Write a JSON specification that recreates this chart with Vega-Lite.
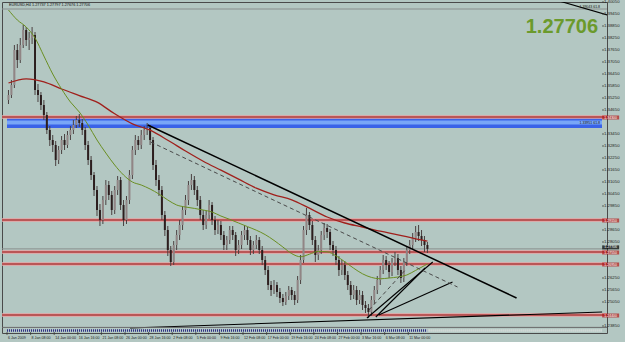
{
"$schema":"https://vega.github.io/schema/vega-lite/v6.json",
"width":605,"height":331,
"autosize":{"type":"none"},
"padding":{"left":2,"top":2,"right":18,"bottom":9},
"background":"#B3C7C2",
"config":{"view":{"stroke":"#4A4A4A","strokeWidth":1,"fill":"#B3C7C2"},"font":"Liberation Sans"},
"datasets":{
"bars":[
{"i":0,"o":1.3515,"h":1.3565,"l":1.3495,"c":1.3540},
{"i":1,"o":1.3540,"h":1.3615,"l":1.3525,"c":1.3590},
{"i":2,"o":1.3590,"h":1.3790,"l":1.3575,"c":1.3765},
{"i":3,"o":1.3765,"h":1.3795,"l":1.3675,"c":1.3715},
{"i":4,"o":1.3715,"h":1.3825,"l":1.3700,"c":1.3790},
{"i":5,"o":1.3790,"h":1.3890,"l":1.3775,"c":1.3865},
{"i":6,"o":1.3865,"h":1.3880,"l":1.3785,"c":1.3815},
{"i":7,"o":1.3815,"h":1.3855,"l":1.3765,"c":1.3825},
{"i":8,"o":1.3825,"h":1.3880,"l":1.3795,"c":1.3840},
{"i":9,"o":1.3840,"h":1.3855,"l":1.3540,"c":1.3565},
{"i":10,"o":1.3565,"h":1.3595,"l":1.3505,"c":1.3540},
{"i":11,"o":1.3540,"h":1.3555,"l":1.3465,"c":1.3490},
{"i":12,"o":1.3490,"h":1.3515,"l":1.3415,"c":1.3440},
{"i":13,"o":1.3440,"h":1.3455,"l":1.3345,"c":1.3365},
{"i":14,"o":1.3365,"h":1.3385,"l":1.3285,"c":1.3315},
{"i":15,"o":1.3315,"h":1.3340,"l":1.3255,"c":1.3290},
{"i":16,"o":1.3290,"h":1.3310,"l":1.3185,"c":1.3215},
{"i":17,"o":1.3215,"h":1.3285,"l":1.3195,"c":1.3265},
{"i":18,"o":1.3265,"h":1.3335,"l":1.3245,"c":1.3315},
{"i":19,"o":1.3315,"h":1.3345,"l":1.3265,"c":1.3290},
{"i":20,"o":1.3290,"h":1.3360,"l":1.3275,"c":1.3340},
{"i":21,"o":1.3340,"h":1.3385,"l":1.3315,"c":1.3365},
{"i":22,"o":1.3365,"h":1.3415,"l":1.3345,"c":1.3390},
{"i":23,"o":1.3390,"h":1.3435,"l":1.3375,"c":1.3415},
{"i":24,"o":1.3415,"h":1.3445,"l":1.3380,"c":1.3400},
{"i":25,"o":1.3400,"h":1.3420,"l":1.3340,"c":1.3365},
{"i":26,"o":1.3365,"h":1.3380,"l":1.3265,"c":1.3290},
{"i":27,"o":1.3290,"h":1.3310,"l":1.3190,"c":1.3215},
{"i":28,"o":1.3215,"h":1.3235,"l":1.3115,"c":1.3140},
{"i":29,"o":1.3140,"h":1.3155,"l":1.3035,"c":1.3065},
{"i":30,"o":1.3065,"h":1.3085,"l":1.2935,"c":1.2965},
{"i":31,"o":1.2965,"h":1.2995,"l":1.2885,"c":1.2915},
{"i":32,"o":1.2915,"h":1.3035,"l":1.2895,"c":1.3015},
{"i":33,"o":1.3015,"h":1.3115,"l":1.2990,"c":1.3090},
{"i":34,"o":1.3090,"h":1.3110,"l":1.3015,"c":1.3040},
{"i":35,"o":1.3040,"h":1.3060,"l":1.2940,"c":1.2965},
{"i":36,"o":1.2965,"h":1.3085,"l":1.2945,"c":1.3065},
{"i":37,"o":1.3065,"h":1.3135,"l":1.3040,"c":1.3115},
{"i":38,"o":1.3115,"h":1.3130,"l":1.2965,"c":1.2990},
{"i":39,"o":1.2990,"h":1.3015,"l":1.2885,"c":1.2915},
{"i":40,"o":1.2915,"h":1.3035,"l":1.2895,"c":1.3015},
{"i":41,"o":1.3015,"h":1.3165,"l":1.2995,"c":1.3140},
{"i":42,"o":1.3140,"h":1.3285,"l":1.3120,"c":1.3265},
{"i":43,"o":1.3265,"h":1.3340,"l":1.3240,"c":1.3315},
{"i":44,"o":1.3315,"h":1.3335,"l":1.3265,"c":1.3290},
{"i":45,"o":1.3290,"h":1.3365,"l":1.3270,"c":1.3340},
{"i":46,"o":1.3340,"h":1.3385,"l":1.3315,"c":1.3365},
{"i":47,"o":1.3365,"h":1.3400,"l":1.3340,"c":1.3375},
{"i":48,"o":1.3375,"h":1.3390,"l":1.3290,"c":1.3315},
{"i":49,"o":1.3315,"h":1.3330,"l":1.3165,"c":1.3190},
{"i":50,"o":1.3190,"h":1.3215,"l":1.3085,"c":1.3115},
{"i":51,"o":1.3115,"h":1.3140,"l":1.3035,"c":1.3065},
{"i":52,"o":1.3065,"h":1.3085,"l":1.2915,"c":1.2940},
{"i":53,"o":1.2940,"h":1.2960,"l":1.2835,"c":1.2865},
{"i":54,"o":1.2865,"h":1.2885,"l":1.2735,"c":1.2765},
{"i":55,"o":1.2765,"h":1.2785,"l":1.2685,"c":1.2705},
{"i":56,"o":1.2705,"h":1.2810,"l":1.2690,"c":1.2790},
{"i":57,"o":1.2790,"h":1.2865,"l":1.2765,"c":1.2840},
{"i":58,"o":1.2840,"h":1.2915,"l":1.2815,"c":1.2890},
{"i":59,"o":1.2890,"h":1.2985,"l":1.2865,"c":1.2965},
{"i":60,"o":1.2965,"h":1.3040,"l":1.2940,"c":1.3015},
{"i":61,"o":1.3015,"h":1.3110,"l":1.2990,"c":1.3090},
{"i":62,"o":1.3090,"h":1.3145,"l":1.3065,"c":1.3115},
{"i":63,"o":1.3115,"h":1.3135,"l":1.3040,"c":1.3065},
{"i":64,"o":1.3065,"h":1.3085,"l":1.2985,"c":1.3015},
{"i":65,"o":1.3015,"h":1.3035,"l":1.2915,"c":1.2940},
{"i":66,"o":1.2940,"h":1.2965,"l":1.2865,"c":1.2890},
{"i":67,"o":1.2890,"h":1.2960,"l":1.2870,"c":1.2940},
{"i":68,"o":1.2940,"h":1.3015,"l":1.2920,"c":1.2990},
{"i":69,"o":1.2990,"h":1.3005,"l":1.2890,"c":1.2915},
{"i":70,"o":1.2915,"h":1.2935,"l":1.2840,"c":1.2865},
{"i":71,"o":1.2865,"h":1.2915,"l":1.2845,"c":1.2890},
{"i":72,"o":1.2890,"h":1.2910,"l":1.2815,"c":1.2840},
{"i":73,"o":1.2840,"h":1.2860,"l":1.2765,"c":1.2790},
{"i":74,"o":1.2790,"h":1.2835,"l":1.2765,"c":1.2815},
{"i":75,"o":1.2815,"h":1.2885,"l":1.2795,"c":1.2865},
{"i":76,"o":1.2865,"h":1.2885,"l":1.2815,"c":1.2840},
{"i":77,"o":1.2840,"h":1.2855,"l":1.2735,"c":1.2765},
{"i":78,"o":1.2765,"h":1.2815,"l":1.2745,"c":1.2790},
{"i":79,"o":1.2790,"h":1.2860,"l":1.2770,"c":1.2840},
{"i":80,"o":1.2840,"h":1.2890,"l":1.2815,"c":1.2865},
{"i":81,"o":1.2865,"h":1.2880,"l":1.2790,"c":1.2815},
{"i":82,"o":1.2815,"h":1.2835,"l":1.2740,"c":1.2765},
{"i":83,"o":1.2765,"h":1.2810,"l":1.2745,"c":1.2790},
{"i":84,"o":1.2790,"h":1.2840,"l":1.2770,"c":1.2815},
{"i":85,"o":1.2815,"h":1.2830,"l":1.2745,"c":1.2765},
{"i":86,"o":1.2765,"h":1.2785,"l":1.2690,"c":1.2715},
{"i":87,"o":1.2715,"h":1.2735,"l":1.2640,"c":1.2665},
{"i":88,"o":1.2665,"h":1.2685,"l":1.2565,"c":1.2590},
{"i":89,"o":1.2590,"h":1.2610,"l":1.2535,"c":1.2565},
{"i":90,"o":1.2565,"h":1.2615,"l":1.2545,"c":1.2590},
{"i":91,"o":1.2590,"h":1.2605,"l":1.2530,"c":1.2555},
{"i":92,"o":1.2555,"h":1.2575,"l":1.2500,"c":1.2525},
{"i":93,"o":1.2525,"h":1.2545,"l":1.2485,"c":1.2505},
{"i":94,"o":1.2505,"h":1.2555,"l":1.2490,"c":1.2535},
{"i":95,"o":1.2535,"h":1.2585,"l":1.2515,"c":1.2565},
{"i":96,"o":1.2565,"h":1.2580,"l":1.2515,"c":1.2540},
{"i":97,"o":1.2540,"h":1.2560,"l":1.2490,"c":1.2515},
{"i":98,"o":1.2515,"h":1.2635,"l":1.2500,"c":1.2615},
{"i":99,"o":1.2615,"h":1.2740,"l":1.2595,"c":1.2715},
{"i":100,"o":1.2715,"h":1.2885,"l":1.2700,"c":1.2865},
{"i":101,"o":1.2865,"h":1.2975,"l":1.2840,"c":1.2940},
{"i":102,"o":1.2940,"h":1.2955,"l":1.2865,"c":1.2890},
{"i":103,"o":1.2890,"h":1.2910,"l":1.2790,"c":1.2815},
{"i":104,"o":1.2815,"h":1.2835,"l":1.2705,"c":1.2740},
{"i":105,"o":1.2740,"h":1.2790,"l":1.2715,"c":1.2765},
{"i":106,"o":1.2765,"h":1.2860,"l":1.2745,"c":1.2840},
{"i":107,"o":1.2840,"h":1.2900,"l":1.2815,"c":1.2875},
{"i":108,"o":1.2875,"h":1.2895,"l":1.2825,"c":1.2855},
{"i":109,"o":1.2855,"h":1.2870,"l":1.2765,"c":1.2790},
{"i":110,"o":1.2790,"h":1.2810,"l":1.2735,"c":1.2765},
{"i":111,"o":1.2765,"h":1.2785,"l":1.2690,"c":1.2715},
{"i":112,"o":1.2715,"h":1.2735,"l":1.2635,"c":1.2665},
{"i":113,"o":1.2665,"h":1.2715,"l":1.2640,"c":1.2690},
{"i":114,"o":1.2690,"h":1.2710,"l":1.2615,"c":1.2640},
{"i":115,"o":1.2640,"h":1.2660,"l":1.2565,"c":1.2590},
{"i":116,"o":1.2590,"h":1.2610,"l":1.2515,"c":1.2540},
{"i":117,"o":1.2540,"h":1.2590,"l":1.2520,"c":1.2565},
{"i":118,"o":1.2565,"h":1.2585,"l":1.2490,"c":1.2515},
{"i":119,"o":1.2515,"h":1.2565,"l":1.2495,"c":1.2540},
{"i":120,"o":1.2540,"h":1.2560,"l":1.2465,"c":1.2490},
{"i":121,"o":1.2490,"h":1.2510,"l":1.2450,"c":1.2475},
{"i":122,"o":1.2475,"h":1.2495,"l":1.2425,"c":1.2455},
{"i":123,"o":1.2455,"h":1.2535,"l":1.2435,"c":1.2515},
{"i":124,"o":1.2515,"h":1.2585,"l":1.2495,"c":1.2565},
{"i":125,"o":1.2565,"h":1.2635,"l":1.2545,"c":1.2615},
{"i":126,"o":1.2615,"h":1.2685,"l":1.2590,"c":1.2665},
{"i":127,"o":1.2665,"h":1.2740,"l":1.2645,"c":1.2715},
{"i":128,"o":1.2715,"h":1.2735,"l":1.2665,"c":1.2690},
{"i":129,"o":1.2690,"h":1.2710,"l":1.2625,"c":1.2655},
{"i":130,"o":1.2655,"h":1.2725,"l":1.2635,"c":1.2705},
{"i":131,"o":1.2705,"h":1.2755,"l":1.2685,"c":1.2725},
{"i":132,"o":1.2725,"h":1.2745,"l":1.2640,"c":1.2665},
{"i":133,"o":1.2665,"h":1.2685,"l":1.2600,"c":1.2625},
{"i":134,"o":1.2625,"h":1.2725,"l":1.2605,"c":1.2705},
{"i":135,"o":1.2705,"h":1.2785,"l":1.2685,"c":1.2765},
{"i":136,"o":1.2765,"h":1.2815,"l":1.2745,"c":1.2790},
{"i":137,"o":1.2790,"h":1.2850,"l":1.2770,"c":1.2825},
{"i":138,"o":1.2825,"h":1.2885,"l":1.2805,"c":1.2855},
{"i":139,"o":1.2855,"h":1.2890,"l":1.2810,"c":1.2835},
{"i":140,"o":1.2835,"h":1.2865,"l":1.2785,"c":1.2815},
{"i":141,"o":1.2815,"h":1.2835,"l":1.2755,"c":1.2790},
{"i":142,"o":1.2790,"h":1.2805,"l":1.2750,"c":1.27706}
],
"green":[{"i":0,"v":1.3965},{"i":3,"v":1.3915},{"i":6,"v":1.3880},{"i":9,"v":1.3825},{"i":12,"v":1.3735},{"i":15,"v":1.3645},{"i":18,"v":1.3570},{"i":21,"v":1.3505},{"i":24,"v":1.3455},{"i":27,"v":1.3390},{"i":30,"v":1.3315},{"i":33,"v":1.3250},{"i":36,"v":1.3190},{"i":39,"v":1.3140},{"i":42,"v":1.3105},{"i":45,"v":1.3090},{"i":48,"v":1.3070},{"i":51,"v":1.3045},{"i":54,"v":1.3015},{"i":57,"v":1.2990},{"i":60,"v":1.2980},{"i":63,"v":1.2973},{"i":66,"v":1.2965},{"i":69,"v":1.2955},{"i":72,"v":1.2935},{"i":75,"v":1.2918},{"i":78,"v":1.2900},{"i":81,"v":1.2882},{"i":84,"v":1.2864},{"i":87,"v":1.2842},{"i":90,"v":1.2813},{"i":93,"v":1.2780},{"i":96,"v":1.2747},{"i":99,"v":1.2731},{"i":102,"v":1.2744},{"i":105,"v":1.2758},{"i":108,"v":1.2756},{"i":111,"v":1.2736},{"i":114,"v":1.2706},{"i":117,"v":1.2674},{"i":120,"v":1.2646},{"i":123,"v":1.2628},{"i":126,"v":1.2621},{"i":129,"v":1.2625},{"i":132,"v":1.2630},{"i":135,"v":1.2640},{"i":138,"v":1.2663},{"i":141,"v":1.2687},{"i":142,"v":1.2695}],
"red":[{"i":0,"v":1.3600},{"i":6,"v":1.3621},{"i":12,"v":1.3606},{"i":18,"v":1.3570},{"i":24,"v":1.3537},{"i":30,"v":1.3504},{"i":36,"v":1.3446},{"i":42,"v":1.3396},{"i":48,"v":1.3364},{"i":54,"v":1.3314},{"i":60,"v":1.3260},{"i":66,"v":1.3209},{"i":72,"v":1.3164},{"i":78,"v":1.3119},{"i":84,"v":1.3074},{"i":90,"v":1.3041},{"i":96,"v":1.3016},{"i":102,"v":1.2974},{"i":108,"v":1.2930},{"i":114,"v":1.2900},{"i":120,"v":1.2880},{"i":126,"v":1.2859},{"i":132,"v":1.2841},{"i":138,"v":1.2821},{"i":142,"v":1.2809}],
"tl":[
{"k":"thick","i":47.2,"p":1.3390,"i2":172.2,"p2":1.2525},
{"k":"dash","i":48.2,"p":1.3305,"i2":152.2,"p2":1.2580},
{"k":"dash","i":122.2,"p":1.2465,"i2":134.5,"p2":1.2665},
{"k":"thin","i":41.2,"p":1.2375,"i2":201.2,"p2":1.2455},
{"k":"thin","i":121.5,"p":1.2425,"i2":143.8,"p2":1.2705},
{"k":"thin","i":125.5,"p":1.2440,"i2":150.5,"p2":1.2605},
{"k":"thin","i":124.5,"p":1.2430,"i2":141.2,"p2":1.2675},
{"k":"thin","i":185.5,"p":1.4015,"i2":203,"p2":1.3940}
],
"lv":[{"p":1.3430},{"p":1.2915},{"p":1.2755},{"p":1.2695},{"p":1.2440}],
"zone":[{"k":"outer","top":1.3425,"bot":1.3375},{"k":"inner","top":1.3413,"bot":1.3392}],
"hl":[{"p":1.27706},{"p":1.3970}],
"cur":[{"p":1.27706}],
"yt":[{"p":1.2385},{"p":1.2505},{"p":1.2565},{"p":1.2625},{"p":1.2805},{"p":1.2865},{"p":1.2985},{"p":1.3045},{"p":1.3105},{"p":1.3165},{"p":1.3225},{"p":1.3285},{"p":1.3345},{"p":1.3465},{"p":1.3525},{"p":1.3585},{"p":1.3645},{"p":1.3705},{"p":1.3765},{"p":1.3825},{"p":1.3885},{"p":1.3945},{"p":1.4005}],
"xt":[{"i":-0.5,"t":"6 Jan 2009"},{"i":7.5,"t":"8 Jan 08:00"},{"i":15.5,"t":"14 Jan 00:00"},{"i":23.5,"t":"16 Jan 16:00"},{"i":31.5,"t":"21 Jan 08:00"},{"i":39.5,"t":"26 Jan 00:00"},{"i":47.5,"t":"28 Jan 16:00"},{"i":55.5,"t":"2 Feb 08:00"},{"i":63.5,"t":"5 Feb 00:00"},{"i":71.5,"t":"9 Feb 16:00"},{"i":79.5,"t":"12 Feb 08:00"},{"i":87.5,"t":"17 Feb 00:00"},{"i":95.5,"t":"19 Feb 16:00"},{"i":103.5,"t":"24 Feb 08:00"},{"i":111.5,"t":"27 Feb 00:00"},{"i":119.5,"t":"3 Mar 16:00"},{"i":127.5,"t":"6 Mar 08:00"},{"i":135.5,"t":"11 Mar 00:00"}]
},
"layer":[
{"data":{"name":"zone"},"mark":{"type":"rect"},
 "encoding":{
  "x":{"datum":-0.5,"type":"quantitative","scale":{"domain":[-0.5,201.1667],"nice":false,"zero":false},"axis":null},
  "x2":{"datum":201.1667},
  "y":{"field":"top","type":"quantitative","scale":{"domain":[1.235,1.4005],"nice":false,"zero":false},"axis":null},
  "y2":{"field":"bot"},
  "color":{"field":"k","type":"nominal","scale":{"domain":["outer","inner"],"range":["#3A62E8","#79A6F7"]},"legend":null}}},
{"data":{"name":"lv"},"mark":{"type":"rule","color":"#E6A2A2","strokeWidth":3.5},
 "encoding":{"y":{"field":"p","type":"quantitative","axis":null}}},
{"data":{"name":"lv"},"mark":{"type":"rule","color":"#8E0A0A","strokeWidth":1.2},
 "encoding":{"y":{"field":"p","type":"quantitative","axis":null}}},
{"data":{"name":"hl"},"mark":{"type":"rule","color":"#8A8F8E","strokeWidth":1},
 "encoding":{"y":{"field":"p","type":"quantitative","axis":null}}},
{"data":{"name":"bars"},"mark":{"type":"rule","color":"#4A4040","strokeWidth":1},
 "encoding":{
  "x":{"field":"i","type":"quantitative","axis":null},
  "y":{"field":"l","type":"quantitative","axis":null},
  "y2":{"field":"h"}}},
{"data":{"name":"bars"},"mark":{"type":"bar","size":2},
 "encoding":{
  "x":{"field":"i","type":"quantitative","axis":null},
  "y":{"field":"o","type":"quantitative","axis":null},
  "y2":{"field":"c"},
  "color":{"condition":{"test":"datum.c >= datum.o","value":"#918585"},"value":"#2C1E1E"}}},
{"data":{"name":"red"},"mark":{"type":"line","color":"#A0201C","strokeWidth":1.3,"interpolate":"monotone"},
 "encoding":{
  "x":{"field":"i","type":"quantitative","axis":null},
  "y":{"field":"v","type":"quantitative","axis":null}}},
{"data":{"name":"green"},"mark":{"type":"line","color":"#6A8F22","strokeWidth":1,"interpolate":"monotone"},
 "encoding":{
  "x":{"field":"i","type":"quantitative","axis":null},
  "y":{"field":"v","type":"quantitative","axis":null}}},
{"data":{"name":"tl"},"transform":[{"filter":"datum.k == 'thick'"}],"mark":{"type":"rule","color":"#000000","strokeWidth":1.5,"clip":true},
 "encoding":{
  "x":{"field":"i","type":"quantitative","axis":null},
  "x2":{"field":"i2"},
  "y":{"field":"p","type":"quantitative","axis":null},
  "y2":{"field":"p2"}}},
{"data":{"name":"tl"},"transform":[{"filter":"datum.k == 'thin'"}],"mark":{"type":"rule","color":"#000000","strokeWidth":1.1,"clip":true},
 "encoding":{
  "x":{"field":"i","type":"quantitative","axis":null},
  "x2":{"field":"i2"},
  "y":{"field":"p","type":"quantitative","axis":null},
  "y2":{"field":"p2"}}},
{"data":{"name":"tl"},"transform":[{"filter":"datum.k == 'dash'"}],"mark":{"type":"rule","color":"#4A4A4A","strokeWidth":1,"strokeDash":[4,3],"clip":true},
 "encoding":{
  "x":{"field":"i","type":"quantitative","axis":null},
  "x2":{"field":"i2"},
  "y":{"field":"p","type":"quantitative","axis":null},
  "y2":{"field":"p2"}}},
{"data":{"values":[{}]},"mark":{"type":"rule","color":"#2E2E88","strokeWidth":2.5,"strokeDash":[1,1]},
 "encoding":{"x":{"datum":-0.5,"type":"quantitative","axis":null},"x2":{"datum":142},"y":{"datum":1.2362,"type":"quantitative","axis":null}}},
{"data":{"values":[{}]},"mark":{"type":"rule","color":"#E4E4E4","strokeWidth":2.5,"strokeDash":[1,1]},
 "encoding":{"x":{"datum":142,"type":"quantitative","axis":null},"x2":{"datum":201.1667},"y":{"datum":1.2362,"type":"quantitative","axis":null}}},
{"data":{"values":[{}]},"mark":{"type":"rule","color":"#6A6A6A","strokeWidth":1},
 "encoding":{"y":{"datum":1.2378,"type":"quantitative","axis":null}}},
{"data":{"values":[{}]},"mark":{"type":"text","text":"EURUSD,H4 1.27737 1.27797 1.27676 1.27706","fontSize":3.8,"color":"#111111","align":"left","baseline":"top","dx":2,"dy":1},
 "encoding":{"x":{"datum":-0.5,"type":"quantitative","axis":null},"y":{"datum":1.4005,"type":"quantitative","axis":null}}},
{"data":{"values":[{}]},"mark":{"type":"text","text":"1.27706","fontSize":20,"fontWeight":"bold","color":"#6B9A2C","align":"right","baseline":"middle","dx":-4},
 "encoding":{"x":{"datum":201.1667,"type":"quantitative","axis":null},"y":{"datum":1.3880,"type":"quantitative","axis":null}}},
{"data":{"values":[{}]},"mark":{"type":"text","text":"1.39043  61.8","fontSize":3.5,"color":"#111111","align":"right","baseline":"bottom","dx":-2},
 "encoding":{"x":{"datum":201.1667,"type":"quantitative","axis":null},"y":{"datum":1.3972,"type":"quantitative","axis":null}}},
{"data":{"values":[{}]},"mark":{"type":"text","text":"1.33951  61.8","fontSize":3.5,"color":"#111111","align":"right","baseline":"middle","dx":-2},
 "encoding":{"x":{"datum":201.1667,"type":"quantitative","axis":null},"y":{"datum":1.3398,"type":"quantitative","axis":null}}},
{"data":{"name":"yt"},"mark":{"type":"tick","orient":"horizontal","size":2,"thickness":1,"color":"#333333","clip":false},
 "encoding":{"x":{"datum":201.5,"type":"quantitative","axis":null},"y":{"field":"p","type":"quantitative","axis":null}}},
{"data":{"name":"yt"},"mark":{"type":"text","fontSize":4.3,"color":"#1E1E1E","align":"left","baseline":"middle","dx":2,"clip":false},
 "encoding":{"x":{"datum":201.1667,"type":"quantitative","axis":null},"y":{"field":"p","type":"quantitative","axis":null},"text":{"field":"p","format":".5f"}}},
{"data":{"name":"xt"},"mark":{"type":"tick","orient":"vertical","size":3,"thickness":1,"color":"#333333","clip":false},
 "encoding":{"x":{"field":"i","type":"quantitative","axis":null},"y":{"datum":1.2347,"type":"quantitative","axis":null}}},
{"data":{"name":"xt"},"mark":{"type":"text","fontSize":3.6,"color":"#1E1E1E","align":"left","baseline":"top","dx":1,"dy":2.5,"clip":false},
 "encoding":{"x":{"field":"i","type":"quantitative","axis":null},"y":{"datum":1.235,"type":"quantitative","axis":null},"text":{"field":"t"}}},
{"data":{"name":"lv"},"mark":{"type":"tick","orient":"horizontal","size":17,"thickness":4,"color":"#B01A1A","clip":false,"yOffset":0.5},
 "encoding":{"x":{"datum":204.1,"type":"quantitative","axis":null},"y":{"field":"p","type":"quantitative","axis":null}}},
{"data":{"name":"cur"},"mark":{"type":"tick","orient":"horizontal","size":17,"thickness":4,"color":"#000000","clip":false,"yOffset":-1.5},
 "encoding":{"x":{"datum":204.1,"type":"quantitative","axis":null},"y":{"field":"p","type":"quantitative","axis":null}}},
{"data":{"name":"lv"},"mark":{"type":"text","fontSize":3.5,"color":"#FFFFFF","align":"center","baseline":"middle","clip":false,"dy":0.5},
 "encoding":{"x":{"datum":204.1,"type":"quantitative","axis":null},"y":{"field":"p","type":"quantitative","axis":null},"text":{"field":"p","format":".5f"}}},
{"data":{"name":"cur"},"mark":{"type":"text","fontSize":3.5,"color":"#FFFFFF","align":"center","baseline":"middle","clip":false,"dy":-1.5},
 "encoding":{"x":{"datum":204.1,"type":"quantitative","axis":null},"y":{"field":"p","type":"quantitative","axis":null},"text":{"field":"p","format":".5f"}}}
]
}
